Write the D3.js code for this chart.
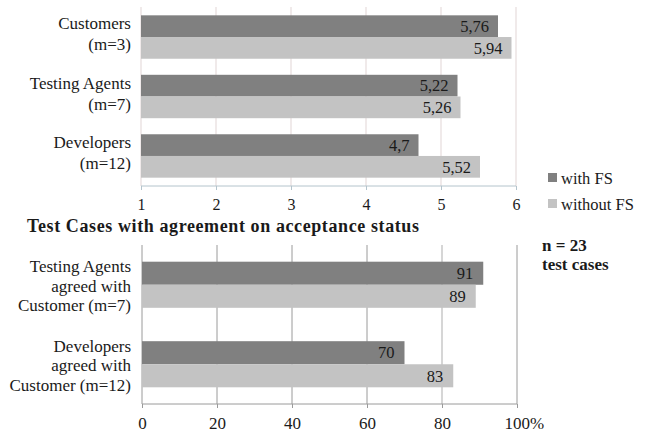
<!DOCTYPE html>
<html><head><meta charset="utf-8">
<script src="https://cdn.jsdelivr.net/npm/d3@7"></script>
<style>
html,body{margin:0;padding:0;background:#fff;}
svg{display:block;}
text{font-family:"Liberation Serif","Times New Roman",serif;fill:#1a1a1a;}
</style></head>
<body>
<svg id="c" width="646" height="433"></svg>
<script>
// Top chart data
const topCategories = [["Customers","(m=3)"],["Testing Agents","(m=7)"],["Developers","(m=12)"]];
const topWithFS = [5.76, 5.22, 4.7];
const topWithoutFS = [5.94, 5.26, 5.52];
const topValueLabels = [["5,76","5,94"],["5,22","5,26"],["4,7","5,52"]];
const topTicks = [1,2,3,4,5,6];

// Bottom chart data
const botTitle = "Test Cases with agreement on acceptance status";
const botCategories = [["Testing Agents","agreed with","Customer (m=7)"],["Developers","agreed with","Customer (m=12)"]];
const botWithFS = [91, 70];
const botWithoutFS = [89, 83];
const botTicks = [0,20,40,60,80,100];
const botTickLabels = ["0","20","40","60","80","100%"];

const seriesNames = ["with FS","without FS"];
const colors = ["#808080","#c3c3c3"];
const FONT = "'Liberation Serif','Times New Roman',serif";

const svg = d3.select("#c");

// ---- Top chart ----
const tx = d3.scaleLinear().domain([1,6]).range([141,516]);
const ty = d3.scaleBand().domain(d3.range(topCategories.length)).range([7,186]).paddingInner(0.27).paddingOuter(0.14);
const g1 = svg.append("g");
g1.selectAll("line.grid").data(topTicks).join("line")
  .attr("x1",d=>tx(d)).attr("x2",d=>tx(d)).attr("y1",7).attr("y2",186)
  .attr("stroke","#e6dcdc").attr("stroke-width",1.2);
const sub1 = d3.scaleBand().domain([0,1]).range([0,ty.bandwidth()]);
topCategories.forEach((c,i)=>{
  [topWithFS[i], topWithoutFS[i]].forEach((v,j)=>{
    g1.append("rect").attr("x",tx(1)).attr("y",ty(i)+sub1(j))
      .attr("width",tx(v)-tx(1)).attr("height",sub1.bandwidth()).attr("fill",colors[j]);
    g1.append("text").attr("x",tx(v)-9).attr("y",ty(i)+sub1(j)+sub1.bandwidth()/2)
      .attr("dy","0.35em").attr("text-anchor","end").attr("font-size",16.5).text(topValueLabels[i][j]);
  });
  const cy = ty(i)+ty.bandwidth()/2 - 3;
  c.forEach((line,k)=>{
    g1.append("text").attr("x",131).attr("y",cy + (k-0.5)*21).attr("dy","0.35em")
      .attr("text-anchor","end").attr("font-size",17).text(line);
  });
});
const ax1 = g1.append("g").attr("transform","translate(0,186)")
  .call(d3.axisBottom(tx).tickValues(topTicks).tickSize(4).tickFormat(d3.format("d")));
ax1.select(".domain").attr("stroke","#b4c4cc").attr("d","M141,0H516");
ax1.selectAll(".tick line").attr("stroke","#b4c4cc");
ax1.selectAll(".tick text").attr("font-family",FONT).attr("font-size",16).attr("fill","#1a1a1a").attr("dy","1.05em");

// legend
seriesNames.forEach((s,j)=>{
  const ly = 178 + j*26;
  svg.append("rect").attr("x",548).attr("y",ly-5).attr("width",9).attr("height",9).attr("fill",colors[j]);
  svg.append("text").attr("x",561).attr("y",ly).attr("dy","0.35em").attr("font-size",16.5).text(s);
});

// ---- Bottom chart ----
svg.append("text").attr("x",27).attr("y",226).attr("dy","0.35em").attr("font-size",18)
  .attr("font-weight","bold").attr("letter-spacing",0.6).text(botTitle);
svg.append("text").attr("x",542).attr("y",245).attr("dy","0.35em").attr("font-size",17).attr("font-weight","bold").text("n = 23");
svg.append("text").attr("x",542).attr("y",264).attr("dy","0.35em").attr("font-size",17).attr("font-weight","bold").text("test cases");

const bx = d3.scaleLinear().domain([0,100]).range([142,517]);
const by = d3.scaleBand().domain(d3.range(botCategories.length)).range([245,404]).paddingInner(0.42).paddingOuter(0.21);
const g2 = svg.append("g");
g2.selectAll("line.grid").data(botTicks).join("line")
  .attr("x1",d=>bx(d)).attr("x2",d=>bx(d)).attr("y1",245).attr("y2",404)
  .attr("stroke",d=>d===80?"#d6d6d6":"#9a9a9a").attr("stroke-width",d=>d===80?2:1);
const sub2 = d3.scaleBand().domain([0,1]).range([0,by.bandwidth()]);
botCategories.forEach((c,i)=>{
  [botWithFS[i], botWithoutFS[i]].forEach((v,j)=>{
    g2.append("rect").attr("x",bx(0)).attr("y",by(i)+sub2(j))
      .attr("width",bx(v)-bx(0)).attr("height",sub2.bandwidth()).attr("fill",colors[j]);
    g2.append("text").attr("x",bx(v)-10).attr("y",by(i)+sub2(j)+sub2.bandwidth()/2)
      .attr("dy","0.35em").attr("text-anchor","end").attr("font-size",16.5).text(v);
  });
  const cy = by(i)+by.bandwidth()/2 + 1;
  c.forEach((line,k)=>{
    g2.append("text").attr("x",131).attr("y",cy + (k-1)*19.5).attr("dy","0.35em")
      .attr("text-anchor","end").attr("font-size",17).text(line);
  });
});
const ax2 = g2.append("g").attr("transform","translate(0,404)")
  .call(d3.axisBottom(bx).tickValues(botTicks).tickSize(4).tickFormat((d,i)=>botTickLabels[i]));
ax2.select(".domain").attr("stroke","#9a9a9a").attr("d","M142,0H517");
ax2.selectAll(".tick line").attr("stroke","#9a9a9a");
ax2.selectAll(".tick text").attr("font-family",FONT).attr("font-size",17).attr("fill","#1a1a1a").attr("dy","1.05em");
ax2.selectAll(".tick text").filter((d)=>d===100).attr("text-anchor","start").attr("dx",-13);
</script>
</body></html>
